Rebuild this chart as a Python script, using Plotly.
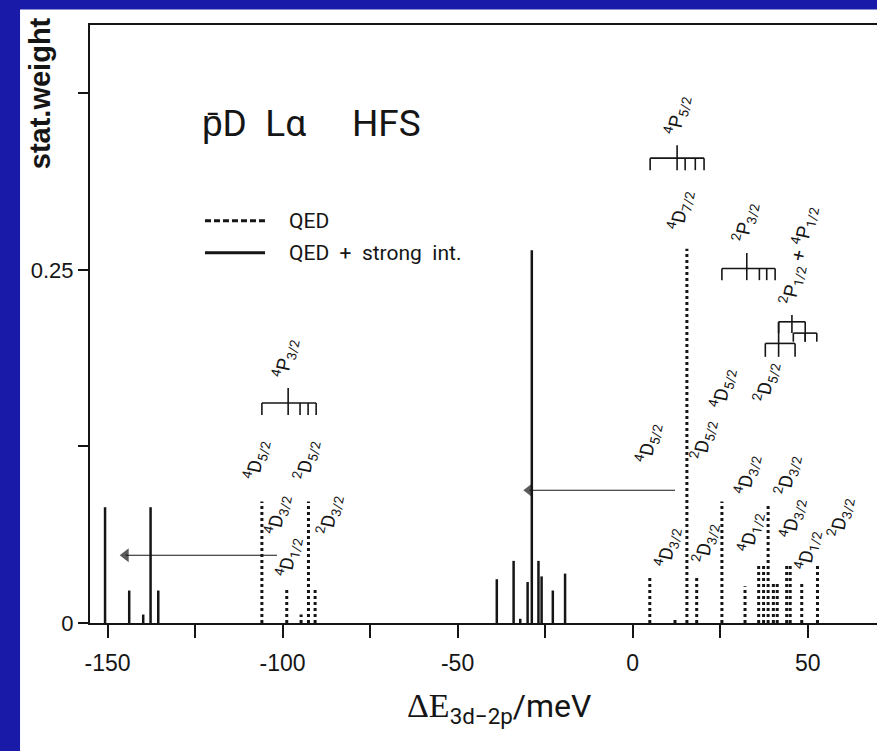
import plotly.graph_objects as go

# ---------------- data ----------------
# QED hyperfine components (dotted)
qed_x = [-105.9, -98.8, -94.7, -92.6, -90.7,
         4.9, 12.1, 15.5, 18.3, 25.5, 32.1, 36.0, 37.4, 38.7, 40.2, 41.3, 44.0, 45.0, 48.3, 52.8]
qed_w = [0.086, 0.025, 0.006, 0.086, 0.025,
         0.032, 0.004, 0.265, 0.032, 0.086, 0.026, 0.042, 0.042, 0.085, 0.028, 0.028, 0.042, 0.042, 0.029, 0.042]

# QED + strong interaction components (solid)
strong_x = [-150.7, -143.8, -139.8, -137.7, -135.5,
            -38.8, -34.0, -32.1, -30.0, -28.8, -26.9, -26.0, -22.8, -19.3]
strong_w = [0.082, 0.023, 0.006, 0.082, 0.023,
            0.031, 0.044, 0.003, 0.029, 0.264, 0.044, 0.033, 0.023, 0.035]

# strong-interaction shift arrows
arrow_from = [-101.6, 12.1]
arrow_to = [-144.8, -29.5]
arrow_y = [0.048, 0.094]

# hyperfine level brackets of the 2p states
bracket_ticks = [[-105.9, -95.0, -92.7, -90.4],
                 [5.0, 15.0, 17.9, 20.4],
                 [25.5, 36.2, 38.3, 40.7],
                 [41.7, 49.3],
                 [45.9, 49.3, 52.6],
                 [37.9, 46.4]]
bracket_center = [-98.4, 12.7, 32.6, 45.5, 49.3, 41.7]
bracket_level = [0.1558, 0.3292, 0.2511, 0.2133, 0.2053, 0.1980]
bracket_drop = [0.0085, 0.0085, 0.0083, 0.0080, 0.0061, 0.0095]
bracket_rise = [0.0106, 0.0092, 0.0109, 0.0048, 0.0, 0.0153]

# state labels: multiplicity, L, J, x, y
label_mult = ["4", "4", "4", "2", "2", "4",
              "4", "4", "4", "2", "2", "4",
              "4", "2", "4", "4", "2", "4", "4", "2", "2"]
label_L = ["D", "D", "D", "D", "D", "P",
           "D", "D", "D", "D", "D", "P",
           "D", "D", "D", "D", "D", "D", "D", "D", "P"]
label_J = ["5/2", "3/2", "1/2", "5/2", "3/2", "3/2",
           "5/2", "3/2", "7/2", "5/2", "3/2", "5/2",
           "5/2", "5/2", "3/2", "1/2", "3/2", "3/2", "1/2", "3/2", "3/2"]
label_x = [-107.6, -101.3, -98.4, -93.3, -86.4, -99.3,
           4.4, 9.9, 13.6, 20.1, 20.7, 12.7,
           25.6, 38.1, 32.6, 33.6, 44.1, 45.6, 49.9, 59.3, 32.1]
label_y = [0.1154, 0.0765, 0.0467, 0.1154, 0.0765, 0.1876,
           0.1274, 0.0538, 0.2924, 0.1296, 0.0566, 0.3597,
           0.1664, 0.1706, 0.1048, 0.0644, 0.1048, 0.0743, 0.0517, 0.0750, 0.2839]
combo_label_x = 47.3
combo_label_y = 0.2606

x_ticks = [-150, -100, -50, 0, 50]
x_ticklabels = ["-150", "-100", "-50", "0", "50"]
x_minor_ticks = [-125, -75, -25, 25]
y_ticks = [0, 0.25]
y_ticklabels = ["0", "0.25"]
y_minor_ticks = [0.125, 0.375]

# ---------------- styling ----------------
INK = "#151515"
BLUE = "#1a1aa8"
NARROW = "Roboto, Liberation Sans, sans-serif"
LABEL_FONT = dict(family=NARROW, size=19, color=INK)


def stems(xs, ws):
    X, Y = [], []
    for x, w in zip(xs, ws):
        X += [x, x, None]
        Y += [0, w, None]
    return X, Y


def bracket_segments():
    X, Y = [], []
    for ticks, c, lv, d, r in zip(bracket_ticks, bracket_center, bracket_level,
                                  bracket_drop, bracket_rise):
        X += [min(ticks), max(ticks), None]
        Y += [lv, lv, None]
        for t in ticks:
            X += [t, t, None]
            Y += [lv, lv - d, None]
        X += [c, c, None]
        Y += [lv + r, lv - d, None]
    return X, Y


fig = go.Figure()

qx, qy = stems(qed_x, qed_w)
fig.add_trace(go.Scatter(x=qx, y=qy, mode="lines", name="QED",
                         line=dict(color=INK, width=3, dash="3px,3px"),
                         showlegend=False, hoverinfo="skip"))
sx, sy = stems(strong_x, strong_w)
fig.add_trace(go.Scatter(x=sx, y=sy, mode="lines", name="QED + strong int.",
                         line=dict(color=INK, width=2.5),
                         showlegend=False, hoverinfo="skip"))
bx, by = bracket_segments()
fig.add_trace(go.Scatter(x=bx, y=by, mode="lines",
                         line=dict(color=INK, width=1.6),
                         showlegend=False, hoverinfo="skip"))

# shift arrows: shaft + triangular head
for x0, x1, yy in zip(arrow_from, arrow_to, arrow_y):
    fig.add_trace(go.Scatter(x=[x0, x1], y=[yy, yy], mode="lines+markers",
                             line=dict(color=INK, width=1.1),
                             marker=dict(symbol="triangle-left", size=[0, 12],
                                         color=INK, line=dict(width=0)),
                             showlegend=False, hoverinfo="skip"))

annotations = []
for m, L, J, x, y in zip(label_mult, label_L, label_J, label_x, label_y):
    annotations.append(dict(x=x, y=y, xref="x", yref="y", showarrow=False,
                            text=f"<sup>{m}</sup>{L}<sub>{J}</sub>",
                            textangle=-78, font=LABEL_FONT,
                            xanchor="center", yanchor="middle"))
annotations.append(dict(x=combo_label_x, y=combo_label_y, xref="x", yref="y",
                        showarrow=False,
                        text="<sup>2</sup>P<sub>1/2</sub> + <sup>4</sup>P<sub>1/2</sub>",
                        textangle=-78, font=LABEL_FONT,
                        xanchor="center", yanchor="middle"))

# title
annotations.append(dict(x=0.1398, y=0.835, xref="paper", yref="paper",
                        showarrow=False, xanchor="left", yanchor="middle",
                        text="p\u0304D  L\u03b1     HFS",
                        font=dict(family=NARROW, size=37, color=INK)))
# legend
annotations.append(dict(x=0.2503, y=0.6727, xref="paper", yref="paper",
                        showarrow=False, xanchor="left", yanchor="middle",
                        text="QED",
                        font=dict(family=NARROW, size=21, color=INK)))
annotations.append(dict(x=0.2503, y=0.6192, xref="paper", yref="paper",
                        showarrow=False, xanchor="left", yanchor="middle",
                        text="QED  +  strong  int.",
                        font=dict(family=NARROW, size=21, color=INK)))
# axis titles
annotations.append(dict(x=-0.0635, y=0.886, xref="paper", yref="paper",
                        showarrow=False, textangle=-90,
                        xanchor="center", yanchor="middle",
                        text="<b>stat.weight</b>",
                        font=dict(family="Liberation Sans", size=29, color=INK)))
annotations.append(dict(x=0.52, y=-0.142, xref="paper", yref="paper",
                        showarrow=False, xanchor="center", yanchor="middle",
                        text="<span style='font-family:Liberation Serif;font-size:34px'>\u0394E</span>"
                             "<sub>3d\u22122p</sub>/meV",
                        font=dict(family=NARROW, size=32, color=INK)))

shapes = [
    dict(type="rect", xref="paper", yref="paper", x0=-0.0889, x1=1.0,
         y0=-0.215, y1=1.026, fillcolor="white", line=dict(width=0), layer="below"),
    dict(type="line", xref="paper", yref="paper", x0=0.1461, x1=0.2224,
         y0=0.6727, y1=0.6727, line=dict(color=INK, width=3, dash="6px,3px")),
    dict(type="line", xref="paper", yref="paper", x0=0.1461, x1=0.2224,
         y0=0.6192, y1=0.6192, line=dict(color=INK, width=3)),
]

fig.update_layout(
    width=877, height=751,
    margin=dict(l=90, r=0, t=25, b=128),
    paper_bgcolor=BLUE, plot_bgcolor="white",
    showlegend=False,
    annotations=annotations, shapes=shapes,
    xaxis=dict(range=[-155, 69.8], showline=True, linecolor=INK, linewidth=2,
               mirror=True, ticks="outside", ticklen=13, tickwidth=1.5,
               tickcolor=INK, tickmode="array", tickvals=x_ticks, ticktext=x_ticklabels,
               minor=dict(tickmode="array", tickvals=x_minor_ticks, ticks="outside",
                          ticklen=13, tickwidth=1.5, tickcolor=INK, showgrid=False),
               showgrid=False, zeroline=False, ticklabelstandoff=5,
               tickfont=dict(family="Liberation Sans", size=23, color=INK)),
    yaxis=dict(range=[0, 0.4235], showline=True, linecolor=INK, linewidth=2,
               ticks="outside", ticklen=10, tickwidth=1.5, tickcolor=INK,
               tickmode="array", tickvals=y_ticks, ticktext=y_ticklabels,
               minor=dict(tickmode="array", tickvals=y_minor_ticks, ticks="outside",
                          ticklen=10, tickwidth=1.5, tickcolor=INK, showgrid=False),
               showgrid=False, zeroline=False,
               tickfont=dict(family="Liberation Sans", size=22, color=INK)),
)

fig.write_html("out.html")
